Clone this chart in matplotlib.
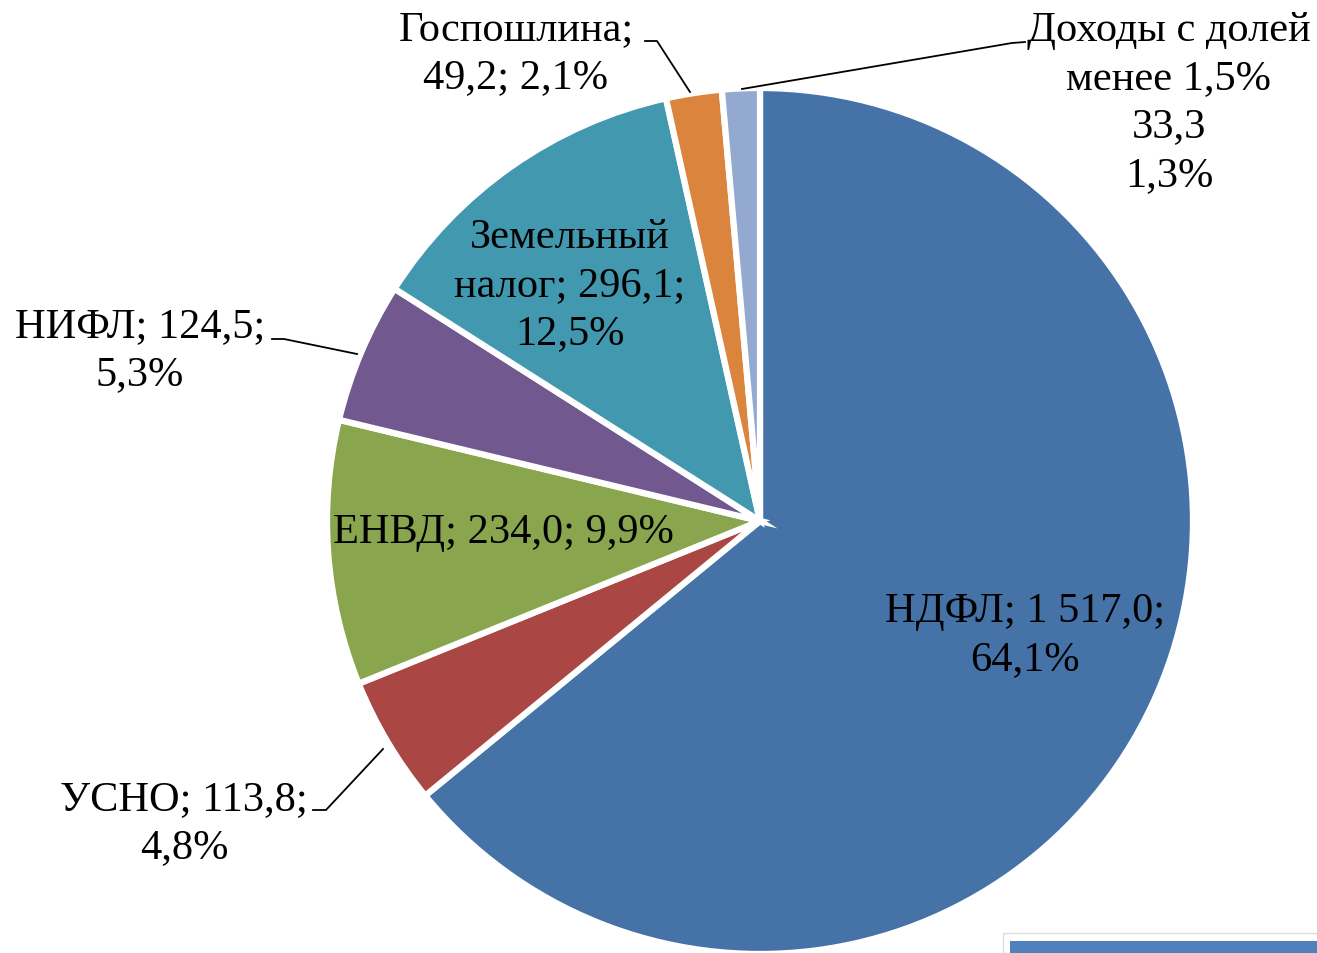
import matplotlib
matplotlib.use("Agg")
import matplotlib.pyplot as plt
from matplotlib.patches import Rectangle

categories = ["НДФЛ", "УСНО", "ЕНВД", "НИФЛ", "Земельный налог", "Госпошлина", "Доходы с долей менее 1,5%"]
values = [1517.0, 113.8, 234.0, 124.5, 296.1, 49.2, 33.3]
percents = ["64,1%", "4,8%", "9,9%", "5,3%", "12,5%", "2,1%", "1,3%"]
value_labels = ["1 517,0", "113,8", "234,0", "124,5", "296,1", "49,2", "33,3"]
colors = ["#4572A7", "#AA4643", "#89A54E", "#71588F", "#4198AF", "#DB843D", "#93A9CF"]

W, H = 1317, 954
fig = plt.figure(figsize=(W / 100, H / 100), dpi=100)
ax = fig.add_axes([0, 0, 1, 1])
fig.patch.set_facecolor("white")

cx, cy, r = 760, H - 522, 433
ax.pie(values, colors=colors, startangle=90, counterclock=False,
       center=(cx, cy), radius=r,
       wedgeprops=dict(edgecolor="white", linewidth=4.5), frame=True)
ax.set_xlim(0, W)
ax.set_ylim(0, H)
ax.set_aspect("equal")
ax.axis("off")

font = dict(family="Liberation Serif", fontsize=30.5, color="black",
            ha="center", va="center", linespacing=1.33)

labels = [
    (f"{categories[0]}; {value_labels[0]};\n{percents[0]}", 1025, 636),
    (f"УСНО; {value_labels[1]};\n{percents[1]}", 184, 824),
    (f"ЕНВД; {value_labels[2]}; {percents[2]}", 503, 533),
    (f"НИФЛ; {value_labels[3]};\n{percents[3]}", 140, 351),
    (f"Земельный\nналог; {value_labels[4]};\n{percents[4]}", 570, 286),
    (f"Госпошлина;\n{value_labels[5]}; {percents[5]}", 516, 54),
    (f"Доходы с долей\nменее 1,5%\n{value_labels[6]}\n{percents[6]}", 1169, 103),
]
for txt, x, y in labels:
    ax.text(x, H - y, txt, zorder=5, **font)

leaders = [
    [(645, 42), (657, 42), (690, 93)],
    [(1025, 43), (1012, 44), (742, 90)],
    [(272, 340), (284, 340), (357, 355)],
    [(313, 811), (326, 811), (383, 750)],
]
for pts in leaders:
    xs = [p[0] for p in pts]
    ys = [H - p[1] for p in pts]
    ax.plot(xs, ys, color="black", lw=1.3, zorder=4)

# partial box at bottom right
ax.add_patch(Rectangle((1003, 0), 330, H - 934, facecolor="white", edgecolor="#dddddd", lw=1, zorder=6))
ax.add_patch(Rectangle((1010, 0), 320, H - 942, facecolor="#4F81BD", lw=0, zorder=7))

fig.savefig("out.png", dpi=100, facecolor="white")
